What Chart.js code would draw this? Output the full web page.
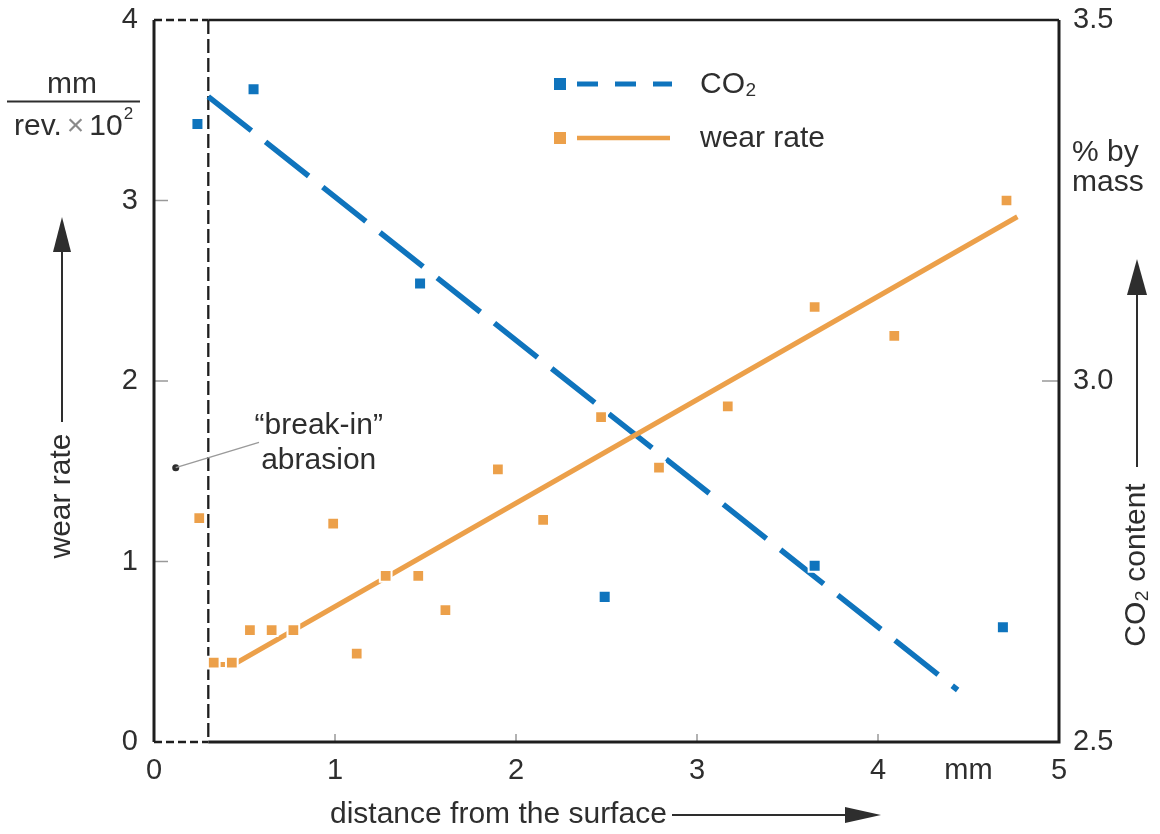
<!DOCTYPE html>
<html>
<head>
<meta charset="utf-8">
<script src="https://cdn.jsdelivr.net/npm/chart.js@4.4.1/dist/chart.umd.min.js"></script>
<style>
  html, body { margin: 0; padding: 0; background: #fff; }
  #wrap { width: 1160px; height: 834px; }
</style>
</head>
<body>
<div id="wrap"><canvas id="chart" width="1160" height="834"></canvas></div>
<script>
// distance from the surface (mm) against CO2 content (% by mass)
const co2Distance = [0.24, 0.55, 1.47, 2.49, 3.65, 4.69]
const co2Content = [3.356, 3.404, 3.135, 2.701, 2.744, 2.659]
const co2TrendDistance = [0.30, 4.44]
const co2TrendContent = [3.394, 2.572]

// distance from the surface (mm) against wear rate (mm/rev. x 10^2)
const wearDistance = [0.25, 0.33, 0.43, 0.53, 0.65, 0.77, 0.99, 1.12, 1.28, 1.46, 1.61, 1.90, 2.15, 2.47, 2.79, 3.17, 3.65, 4.09, 4.71]
const wearRate = [1.24, 0.44, 0.44, 0.62, 0.62, 0.62, 1.21, 0.49, 0.92, 0.92, 0.73, 1.51, 1.23, 1.80, 1.52, 1.86, 2.41, 2.25, 3.00]
const wearTrendDistance = [0.30, 0.44, 4.77]
const wearTrendRate = [0.43, 0.43, 2.91]

// end of the "break-in" abrasion zone
const breakInDistance = 0.30

const xTicks = [0, 1, 2, 3, 4, 4.5, 5]
const xTickLabels = ['0', '1', '2', '3', '4', 'mm', '5']
const wearTicks = [0, 1, 2, 3, 4]
const co2Ticks = [2.5, 3.0, 3.5]

const BLUE = '#0f74bd'
const ORANGE = '#eca04a'
const INK = '#2e2e2e'
const FONT = '"Liberation Sans", Arial, sans-serif'
const TEXT = '30px ' + FONT

const toPoints = (xs, ys) => xs.map((x, i) => ({ x: x, y: ys[i] }))

// keep tick labels from pushing the plot area inwards
const noOverflow = scale => {
  scale.paddingTop = 0
  scale.paddingBottom = 0
  scale.paddingLeft = 0
  scale.paddingRight = 0
}

function arrowHead(ctx, tipX, tipY, dir, len, half) {
  ctx.beginPath()
  if (dir === 'up') {
    ctx.moveTo(tipX, tipY)
    ctx.lineTo(tipX - half, tipY + len)
    ctx.lineTo(tipX + half, tipY + len)
  } else {
    ctx.moveTo(tipX, tipY)
    ctx.lineTo(tipX - len, tipY - half)
    ctx.lineTo(tipX - len, tipY + half)
  }
  ctx.closePath()
  ctx.fill()
}

// axes frame, inner tick marks and the break-in boundary
const framePlugin = {
  id: 'frame',
  beforeDatasetsDraw(chart) {
    const { ctx, chartArea: a, scales } = chart
    const xb = scales.x.getPixelForValue(breakInDistance)
    ctx.save()
    ctx.strokeStyle = '#999'
    ctx.lineWidth = 1.5
    wearTicks.slice(1, -1).forEach(v => {
      const y = scales.y.getPixelForValue(v)
      ctx.beginPath(); ctx.moveTo(a.left, y); ctx.lineTo(a.left + 14, y); ctx.stroke()
    })
    ctx.beginPath()
    const y3 = scales.y2.getPixelForValue(co2Ticks[1])
    ctx.moveTo(a.right, y3); ctx.lineTo(a.right - 17, y3); ctx.stroke()
    xTicks.filter(v => v > 0 && v < 5 && Number.isInteger(v)).forEach(v => {
      const x = scales.x.getPixelForValue(v)
      ctx.beginPath(); ctx.moveTo(x, a.bottom); ctx.lineTo(x, a.bottom - 8); ctx.stroke()
    })

    ctx.strokeStyle = '#1e1e1e'
    ctx.lineWidth = 3
    ctx.beginPath()
    ctx.moveTo(a.left, a.top); ctx.lineTo(a.left, a.bottom)
    ctx.moveTo(xb, a.bottom); ctx.lineTo(a.right, a.bottom); ctx.lineTo(a.right, a.top)
    ctx.stroke()
    ctx.lineWidth = 2.5
    ctx.beginPath(); ctx.moveTo(xb, a.top); ctx.lineTo(a.right, a.top); ctx.stroke()

    ctx.setLineDash([8, 4])
    ctx.lineWidth = 2.5
    ctx.beginPath()
    ctx.moveTo(a.left, a.top); ctx.lineTo(xb, a.top)
    ctx.moveTo(a.left, a.bottom); ctx.lineTo(xb, a.bottom)
    ctx.stroke()
    ctx.setLineDash([14, 5])
    ctx.lineWidth = 2.3
    ctx.beginPath(); ctx.moveTo(xb, a.top); ctx.lineTo(xb, a.bottom); ctx.stroke()
    ctx.restore()
  }
}

// axis titles, legend and the break-in note
const labelsPlugin = {
  id: 'labels',
  afterDraw(chart) {
    const { ctx, scales } = chart
    ctx.save()
    ctx.fillStyle = INK
    ctx.strokeStyle = INK
    ctx.textBaseline = 'middle'
    ctx.font = TEXT

    // left unit: mm / rev. x 10^2
    ctx.textAlign = 'center'
    ctx.fillText('mm', 72, 85)
    ctx.lineWidth = 1.8
    ctx.beginPath(); ctx.moveTo(7, 101.5); ctx.lineTo(140, 101.5); ctx.stroke()
    ctx.textAlign = 'left'
    let x = 14
    ctx.fillText('rev.', x, 127); x += ctx.measureText('rev.').width + 5
    ctx.fillStyle = '#8a8a8a'
    ctx.fillText('\u00d7', x, 127); x += ctx.measureText('\u00d7').width + 5
    ctx.fillStyle = INK
    ctx.fillText('10', x, 127); x += ctx.measureText('10').width + 1
    ctx.font = '17px ' + FONT
    ctx.fillText('2', x, 114)

    // left title with arrow
    ctx.font = TEXT
    ctx.save()
    ctx.translate(62, 496)
    ctx.rotate(-Math.PI / 2)
    ctx.textAlign = 'center'
    ctx.fillText('wear rate', 0, 0)
    ctx.restore()
    ctx.lineWidth = 2
    ctx.beginPath(); ctx.moveTo(62, 422); ctx.lineTo(62, 245); ctx.stroke()
    arrowHead(ctx, 62, 217, 'up', 35, 9)

    // right unit and title with arrow
    ctx.textAlign = 'left'
    ctx.fillText('% by', 1072, 153)
    ctx.fillText('mass', 1072, 183)
    ctx.beginPath(); ctx.moveTo(1137, 467); ctx.lineTo(1137, 290); ctx.stroke()
    arrowHead(ctx, 1137, 259, 'up', 36, 10)
    ctx.save()
    ctx.translate(1137, 565)
    ctx.rotate(-Math.PI / 2)
    ctx.textAlign = 'center'
    ctx.fillText('CO\u2082 content', 0, 0)
    ctx.restore()

    // bottom title with arrow
    ctx.textAlign = 'left'
    ctx.fillText('distance from the surface', 330, 815)
    ctx.beginPath(); ctx.moveTo(672, 815); ctx.lineTo(850, 815); ctx.stroke()
    arrowHead(ctx, 881, 815, 'right', 36, 8)

    // legend
    ctx.fillStyle = BLUE
    ctx.fillRect(554, 78, 12, 12)
    ctx.strokeStyle = BLUE
    ctx.lineWidth = 5
    ctx.setLineDash([21, 17])
    ctx.beginPath(); ctx.moveTo(577, 84); ctx.lineTo(672, 84); ctx.stroke()
    ctx.setLineDash([])
    ctx.fillStyle = ORANGE
    ctx.fillRect(554, 132, 12, 12)
    ctx.strokeStyle = ORANGE
    ctx.lineWidth = 4.5
    ctx.beginPath(); ctx.moveTo(577, 138); ctx.lineTo(670, 138); ctx.stroke()
    ctx.fillStyle = INK
    ctx.fillText('CO\u2082', 700, 85)
    ctx.fillText('wear rate', 700, 139)

    // break-in note
    const dotX = scales.x.getPixelForValue(0.12)
    const dotY = scales.y.getPixelForValue(1.52)
    ctx.beginPath(); ctx.arc(dotX, dotY, 3.5, 0, Math.PI * 2); ctx.fill()
    ctx.strokeStyle = '#9a9a9a'
    ctx.lineWidth = 1.5
    ctx.beginPath()
    ctx.moveTo(dotX, dotY)
    ctx.lineTo(scales.x.getPixelForValue(0.58), scales.y.getPixelForValue(1.66))
    ctx.stroke()
    ctx.textAlign = 'center'
    const noteX = scales.x.getPixelForValue(0.91)
    ctx.fillText('\u201cbreak-in\u201d', noteX, scales.y.getPixelForValue(1.75))
    ctx.fillText('abrasion', noteX, scales.y.getPixelForValue(1.56))
    ctx.restore()
  }
}

new Chart(document.getElementById('chart'), {
  type: 'scatter',
  data: {
    datasets: [
      {
        label: 'CO\u2082',
        data: toPoints(co2Distance, co2Content),
        yAxisID: 'y2',
        pointStyle: 'rect',
        pointRadius: 8.5,
        backgroundColor: BLUE,
        borderColor: '#fff',
        borderWidth: 2,
        showLine: false,
        order: 1
      },
      {
        label: 'wear rate',
        data: toPoints(wearDistance, wearRate),
        yAxisID: 'y',
        pointStyle: 'rect',
        pointRadius: 8.3,
        backgroundColor: ORANGE,
        borderColor: '#fff',
        borderWidth: 2,
        showLine: false,
        order: 2
      },
      {
        label: 'CO\u2082 trend',
        data: toPoints(co2TrendDistance, co2TrendContent),
        yAxisID: 'y2',
        showLine: true,
        borderColor: BLUE,
        borderWidth: 5.5,
        borderDash: [55, 18],
        borderCapStyle: 'butt',
        pointRadius: 0,
        order: 4
      },
      {
        label: 'wear rate trend',
        data: toPoints(wearTrendDistance, wearTrendRate),
        yAxisID: 'y',
        showLine: true,
        borderColor: ORANGE,
        borderWidth: 5,
        pointRadius: 0,
        order: 3
      }
    ]
  },
  options: {
    responsive: false,
    animation: false,
    layout: { padding: { top: 20, left: 0, right: 0, bottom: 0 } },
    plugins: {
      legend: { display: false },
      tooltip: { enabled: false }
    },
    scales: {
      x: {
        type: 'linear',
        min: 0,
        max: 5,
        grid: { display: false, drawTicks: false },
        border: { display: false },
        afterBuildTicks: scale => { scale.ticks = xTicks.map(v => ({ value: v })) },
        afterFit: scale => { scale.height = 92; noOverflow(scale) },
        ticks: {
          padding: 12,
          color: INK,
          font: { family: FONT, size: 29 },
          maxRotation: 0,
          autoSkip: false,
          callback: (v, i) => xTickLabels[i]
        }
      },
      y: {
        position: 'left',
        min: 0,
        max: 4,
        grid: { display: false, drawTicks: false },
        border: { display: false },
        afterBuildTicks: scale => { scale.ticks = wearTicks.map(v => ({ value: v })) },
        afterFit: scale => { scale.width = 154; noOverflow(scale) },
        ticks: {
          padding: 16,
          color: INK,
          font: { family: FONT, size: 29 }
        }
      },
      y2: {
        position: 'right',
        min: 2.5,
        max: 3.5,
        grid: { display: false, drawTicks: false },
        border: { display: false },
        afterBuildTicks: scale => { scale.ticks = co2Ticks.map(v => ({ value: v })) },
        afterFit: scale => { scale.width = 101; noOverflow(scale) },
        ticks: {
          padding: 14,
          color: INK,
          font: { family: FONT, size: 29 },
          callback: v => v.toFixed(1)
        }
      }
    }
  },
  plugins: [framePlugin, labelsPlugin]
})
</script>
</body>
</html>
